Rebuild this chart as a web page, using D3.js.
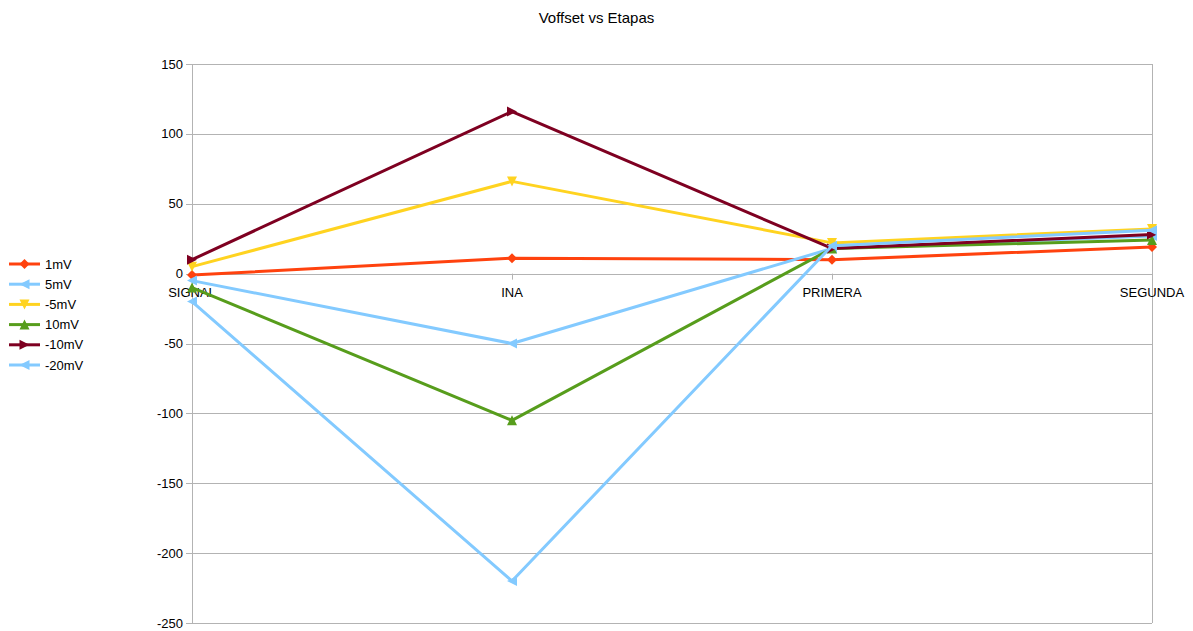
<!DOCTYPE html>
<html>
<head>
<meta charset="utf-8">
<script src="https://cdn.jsdelivr.net/npm/d3@7"></script>
<style>
  body { margin: 0; background: #fff; }
  svg { display: block; font-family: "Liberation Sans", Arial, sans-serif; }
</style>
</head>
<body>
<div id="chart"></div>
<script>
// ========================
// Data
// ========================
const categories = ["SIGNAL", "INA", "PRIMERA", "SEGUNDA"];
const seriesNames = ["1mV", "5mV", "-5mV", "10mV", "-10mV", "-20mV"];
const v1mV   = [-1, 11, 10, 19];
const v5mV   = [-5, -50, 18, 27];
const vm5mV  = [5, 66, 22, 32];
const v10mV  = [-10, -105, 18, 24];
const vm10mV = [10, 116, 18, 28];
const vm20mV = [-20, -220, 20, 31];
const yTicks = [-250, -200, -150, -100, -50, 0, 50, 100, 150];

const colors  = ["#ff420e", "#83caff", "#ffd320", "#579d1c", "#7e0021", "#83caff"];
const symbols = ["diamond", "left", "down", "up", "right", "left"];
const allValues = [v1mV, v5mV, vm5mV, v10mV, vm10mV, vm20mV];

const series = seriesNames.map((name, i) => ({
    name, color: colors[i], symbol: symbols[i],
    values: allValues[i].map((v, j) => ({ cat: categories[j], v }))
}));

// ========================
// Setup
// ========================
const width = 1193, height = 631;
const margin = { left: 192, right: 41, top: 64, bottom: 8 };

const svg = d3.select("#chart").append("svg")
    .attr("width", width).attr("height", height);

const x = d3.scalePoint()
    .domain(categories)
    .range([margin.left, width - margin.right]);

const y = d3.scaleLinear()
    .domain([-250, 150])
    .range([height - margin.bottom - 0, margin.top]);

// marker shapes (size s = half width)
function markerPath(type, s) {
    switch (type) {
        case "diamond": return `M0,${-s}L${s},0L0,${s}L${-s},0Z`;
        case "left":    return `M${-s},0L${s},${-s}L${s},${s}Z`;
        case "right":   return `M${s},0L${-s},${-s}L${-s},${s}Z`;
        case "up":      return `M0,${-s}L${s},${s}L${-s},${s}Z`;
        case "down":    return `M0,${s}L${s},${-s}L${-s},${-s}Z`;
    }
}

// title
svg.append("text")
    .attr("x", width / 2).attr("y", 23)
    .attr("text-anchor", "middle")
    .style("font-size", "15px")
    .attr("fill", "#000")
    .text("Voffset vs Etapas");

// --- gridlines ---
svg.append("g")
    .selectAll("line")
    .data(yTicks)
    .join("line")
    .attr("x1", margin.left - 6).attr("x2", width - margin.right)
    .attr("y1", d => Math.round(y(d)) + 0.5).attr("y2", d => Math.round(y(d)) + 0.5)
    .attr("stroke", "#b3b3b3").attr("stroke-width", 1);

// y labels
svg.append("g")
    .selectAll("text")
    .data(yTicks)
    .join("text")
    .attr("x", margin.left - 9)
    .attr("y", d => y(d))
    .attr("dy", "0.35em")
    .attr("text-anchor", "end")
    .style("font-size", "13px")
    .attr("fill", "#000")
    .text(d => d);

// plot border verticals
[margin.left, width - margin.right].forEach(px => {
    svg.append("line")
        .attr("x1", px + 0.5).attr("x2", px + 0.5)
        .attr("y1", y(150)).attr("y2", y(-250))
        .attr("stroke", "#b3b3b3");
});

// x ticks on the zero line
svg.append("g")
    .selectAll("line")
    .data(categories)
    .join("line")
    .attr("x1", d => Math.round(x(d)) + 0.5).attr("x2", d => Math.round(x(d)) + 0.5)
    .attr("y1", y(0)).attr("y2", y(0) + 6)
    .attr("stroke", "#b3b3b3");

// x labels
svg.append("g")
    .selectAll("text")
    .data(categories)
    .join("text")
    .attr("x", d => x(d))
    .attr("y", y(0) + 23)
    .attr("text-anchor", "middle")
    .style("font-size", "13px")
    .attr("fill", "#000")
    .text(d => d);

// --- lines ---
const line = d3.line()
    .x(d => x(d.cat))
    .y(d => y(d.v));

const g = svg.append("g");
series.forEach(s => {
    g.append("path")
        .datum(s.values)
        .attr("fill", "none")
        .attr("stroke", s.color)
        .attr("stroke-width", 3)
        .attr("stroke-linejoin", "round")
        .attr("d", line);
    g.selectAll(null)
        .data(s.values)
        .join("path")
        .attr("transform", d => `translate(${x(d.cat)},${y(d.v)})`)
        .attr("d", markerPath(s.symbol, 5))
        .attr("fill", s.color);
});

// --- legend ---
const legend = svg.append("g");
series.forEach((s, i) => {
    const ly = 264 + i * 20.2;
    legend.append("line")
        .attr("x1", 9).attr("x2", 40)
        .attr("y1", ly).attr("y2", ly)
        .attr("stroke", s.color).attr("stroke-width", 3);
    legend.append("path")
        .attr("transform", `translate(24.5,${ly})`)
        .attr("d", markerPath(s.symbol, 5))
        .attr("fill", s.color);
    legend.append("text")
        .attr("x", 45).attr("y", ly)
        .attr("dy", "0.35em")
        .style("font-size", "13px")
        .attr("fill", "#000")
        .text(s.name);
});
</script>
</body>
</html>
